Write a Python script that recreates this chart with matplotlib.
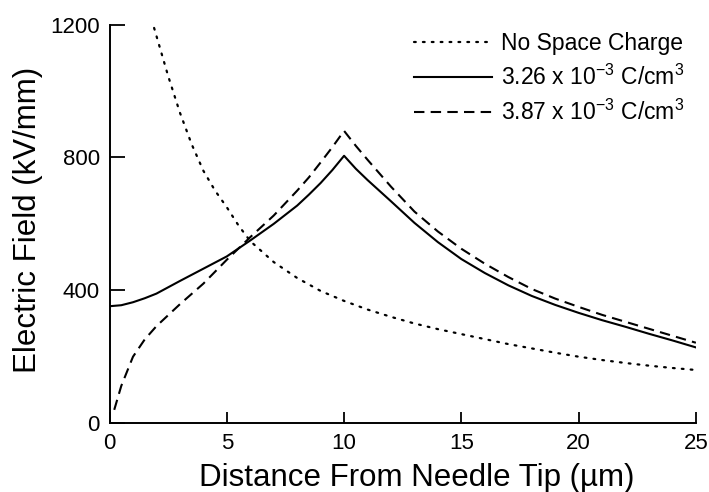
import numpy as np
import matplotlib
matplotlib.use("Agg")
import matplotlib.pyplot as plt

plt.rcParams['font.family'] = ['Liberation Sans', 'DejaVu Sans']
plt.rcParams['mathtext.fontset'] = 'custom'
plt.rcParams['mathtext.rm'] = 'Liberation Sans'
plt.rcParams['mathtext.it'] = 'Liberation Sans'

# No space charge (dotted)
x_none = [1.9, 2.5, 3.0, 3.5, 4.0, 4.5, 5.0, 5.5, 6.0, 7.0, 8.0, 9.0, 10.0, 11.0, 12.0,
          13.0, 14.0, 15.0, 16.0, 17.0, 18.0, 19.0, 20.0, 21.0, 22.0, 23.0, 24.0, 25.0]
y_none = [1190, 1045, 935, 840, 760, 700, 650, 595, 548, 485, 437, 398, 368, 342, 320,
          300, 283, 268, 253, 238, 225, 212, 200, 190, 181, 173, 166, 160]

# 3.26e-3 C/cm3 (solid)
x_low = [0.0, 0.5, 1.0, 1.5, 2.0, 3.0, 4.0, 5.0, 6.0, 7.0, 8.0, 8.5, 9.0, 9.5, 10.0,
         10.5, 11.0, 12.0, 13.0, 14.0, 15.0, 16.0, 17.0, 18.0, 19.0, 20.0, 21.0, 22.0,
         23.0, 24.0, 25.0]
y_low = [352, 355, 364, 376, 390, 428, 465, 502, 550, 600, 655, 688, 723, 762, 805,
         766, 732, 668, 603, 545, 494, 452, 415, 383, 356, 332, 310, 290,
         269, 249, 228]

# 3.87e-3 C/cm3 (dashed)
x_high = [0.2, 0.5, 1.0, 1.5, 2.0, 3.0, 4.0, 5.0, 6.0, 7.0, 8.0, 8.5, 9.0, 9.5, 10.0,
          10.5, 11.0, 12.0, 13.0, 14.0, 15.0, 16.0, 17.0, 18.0, 19.0, 20.0, 21.0, 22.0,
          23.0, 24.0, 25.0]
y_high = [40, 112, 200, 252, 292, 358, 420, 492, 560, 625, 700, 740, 785, 831, 880,
          835, 793, 712, 637, 577, 525, 480, 440, 404, 375, 350, 326, 305,
          284, 263, 242]

fig = plt.figure(figsize=(7.09, 4.92), dpi=100)
ax = fig.add_axes([0.1545, 0.14, 0.827, 0.81])

ax.plot(x_none, y_none, color='black', lw=1.6, linestyle=(0, (0.8, 3.2)),
        dash_capstyle='round', label='No Space Charge')
ax.plot(x_low, y_low, color='black', lw=1.5, label=r'3.26 x 10$^{-3}$ C/cm$^{3}$')
ax.plot(x_high, y_high, color='black', lw=1.5, linestyle=(0, (5, 3)),
        label=r'3.87 x 10$^{-3}$ C/cm$^{3}$')

ax.set_xlim(0, 25)
ax.set_ylim(0, 1200)
ax.set_xticks([0, 5, 10, 15, 20, 25])
ax.set_yticks([0, 400, 800, 1200])
ax.spines['top'].set_visible(False)
ax.spines['right'].set_visible(False)
ax.spines['left'].set_linewidth(1.4)
ax.spines['bottom'].set_linewidth(1.4)
ax.tick_params(axis='y', direction='in', length=11, width=1.3, pad=7, labelsize=16)
ax.tick_params(axis='x', direction='in', length=8, width=1.3, pad=7, labelsize=16)

ax.set_xlabel('Distance From Needle Tip (\u00b5m)', fontsize=22.5)
ax.set_ylabel('Electric Field (kV/mm)', fontsize=22.5)
ax.xaxis.set_label_coords(0.524, -0.1)
ax.yaxis.set_label_coords(-0.113, 0.51)

ax.legend(loc='upper right', bbox_to_anchor=(1.0, 1.01), frameon=False, fontsize=16.5,
          handlelength=3.4, handletextpad=0.4, labelspacing=0.42, borderaxespad=0.1)

fig.savefig('out.png', dpi=100)
